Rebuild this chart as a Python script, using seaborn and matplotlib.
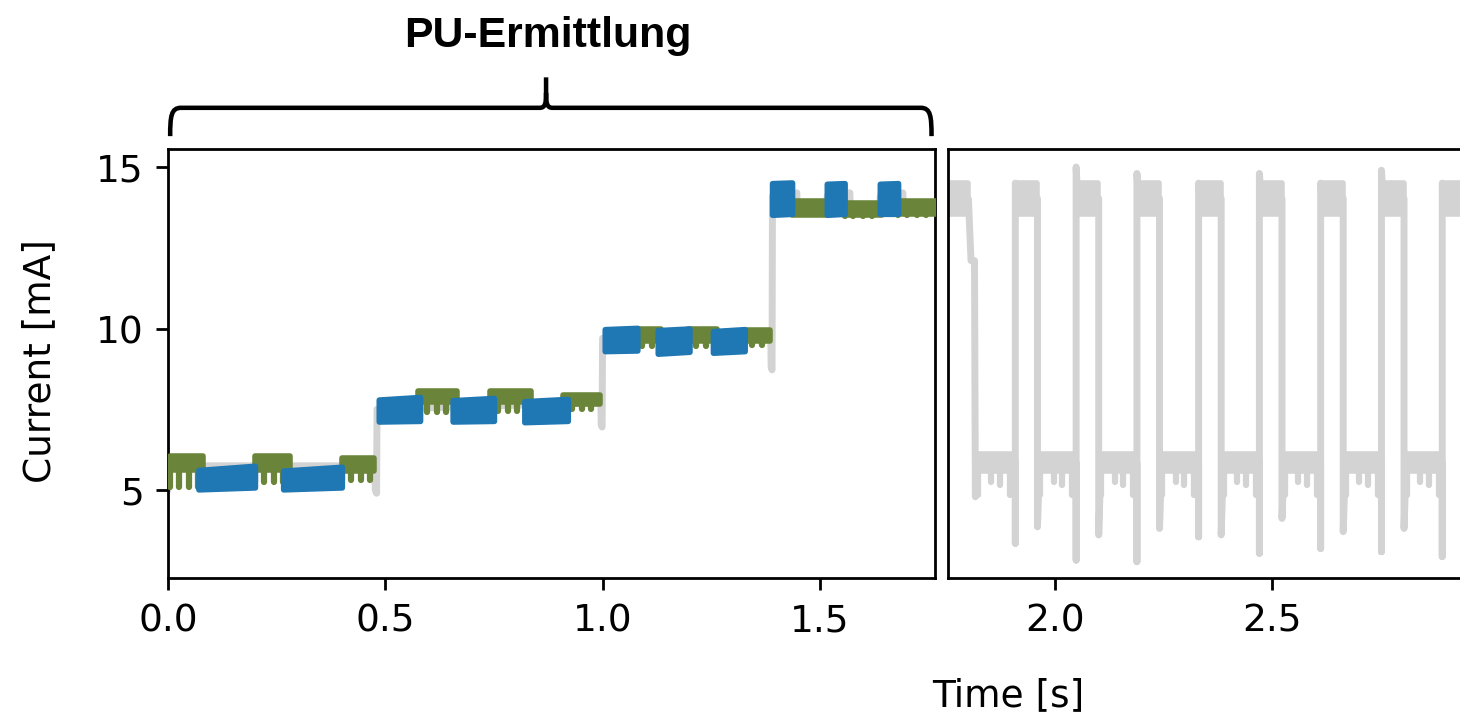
import matplotlib

matplotlib.use("Agg")

import matplotlib.pyplot as plt
import matplotlib.transforms as mtransforms
import seaborn as sns
from matplotlib.patches import PathPatch
from matplotlib.path import Path


GRAY = "#d3d3d3"
BLUE = "#1f77b4"
GREEN = "#6a8539"

# left panel, raw gray trace (time [s], current [mA])
LEFT_TRACE_T = [0.000, 0.002, 0.476, 0.477, 0.480, 0.481, 0.996, 0.997, 0.999, 1.000,
                1.387, 1.388, 1.390, 1.391, 1.447, 1.448, 1.516, 1.517, 1.569, 1.570,
                1.638, 1.639, 1.691, 1.692, 1.770]
LEFT_TRACE_I = [5.00, 5.75, 5.75, 5.00, 4.90, 7.50, 7.70, 7.00, 6.95, 9.70,
                9.80, 8.80, 8.72, 14.10, 14.20, 13.75, 13.75, 14.10, 14.20, 13.75,
                13.75, 14.10, 14.20, 13.75, 13.75]

# green segments (lower part of each PWM period)
GREEN_START = [0.005, 0.200, 0.400, 0.575, 0.740, 0.910, 1.070, 1.196, 1.323, 1.436, 1.557, 1.680]
GREEN_END = [0.080, 0.280, 0.475, 0.665, 0.835, 0.995, 1.135, 1.263, 1.385, 1.516, 1.643, 1.769]
GREEN_TOP = [6.05, 6.05, 6.00, 8.05, 8.05, 7.95, 9.98, 9.98, 9.95, 13.95, 13.90, 13.95]
GREEN_BOTTOM = [5.62, 5.62, 5.60, 7.72, 7.72, 7.65, 9.62, 9.60, 9.62, 13.52, 13.50, 13.55]
GREEN_DRIP = [5.10, 5.25, 5.30, 7.40, 7.45, 7.50, 9.45, 9.45, 9.50, 13.50, 13.48, 13.52]
GREEN_DRIP_OFFSETS = [0.000, 0.020, 0.043, 0.064]

# blue segments (upper part of each PWM period)
BLUE_START = [0.070, 0.265, 0.485, 0.655, 0.820, 1.005, 1.127, 1.254, 1.390, 1.516, 1.638]
BLUE_END = [0.200, 0.400, 0.580, 0.750, 0.920, 1.080, 1.200, 1.327, 1.436, 1.557, 1.680]
BLUE_BOTTOM_START = [5.02, 5.02, 7.12, 7.12, 7.10, 9.30, 9.22, 9.25, 13.52, 13.52, 13.55]
BLUE_BOTTOM_END = [5.08, 5.08, 7.14, 7.14, 7.14, 9.32, 9.28, 9.30, 13.55, 13.55, 13.55]
BLUE_TOP_START = [5.62, 5.60, 7.80, 7.78, 7.75, 9.98, 9.95, 9.92, 14.50, 14.48, 14.48]
BLUE_TOP_END = [5.75, 5.72, 7.88, 7.85, 7.82, 10.02, 10.00, 9.98, 14.52, 14.50, 14.50]

# right panel, square wave of the gray trace
PULSE_FALL_T = [1.816, 1.959, 2.100, 2.240, 2.382, 2.522, 2.663, 2.803]
FALL_DIP_I = [4.79, 3.86, 3.61, 3.81, 3.61, 4.12, 3.71, 3.81]
PULSE_RISE_T = [1.908, 2.048, 2.188, 2.330, 2.470, 2.611, 2.751, 2.891]
RISE_DIP_I = [3.35, 2.83, 2.78, 3.55, 3.04, 3.19, 3.09, 2.94]
RISE_PEAK_I = [14.50, 15.00, 14.80, 14.50, 14.80, 14.50, 14.90, 14.50]
SHOULDER_T = [1.800, 1.806, 1.814]
SHOULDER_I = [14.00, 12.10, 12.10]
HIGH_BAND = (13.55, 14.50)
LOW_BAND = (5.58, 6.10)
LOW_DRIP_OFFSETS = [0.006, 0.037, 0.057, 0.080]
LOW_DRIP_I = [4.85, 5.25, 5.15, 4.85]

LEFT_XLIM = (0.0, 1.765)
RIGHT_XLIM = (1.753, 2.948)
YLIM = (2.276, 15.557)

FONT_SIZE = 10.8


def draw_band(ax, t0, t1, lo0, lo1, hi0, hi1, color, z):
    ax.fill_between([t0, t1], [lo0, lo1], [hi0, hi1], color=color, edgecolor=color,
                    linewidth=1.6, joinstyle="round", zorder=z)


def draw_gray_trace(ax, t, i):
    sns.lineplot(x=t, y=i, ax=ax, color=GRAY, linewidth=2.0, sort=False,
                 estimator=None, zorder=2)


def build_right_trace():
    high = sum(HIGH_BAND) / 2
    low = sum(LOW_BAND) / 2
    rt = [RIGHT_XLIM[0] - 0.01] + SHOULDER_T
    ri = [high] + SHOULDER_I
    for k, tf in enumerate(PULSE_FALL_T):
        if k > 0:
            rt.append(tf)
            ri.append(high)
        rt += [tf, tf + 0.005]
        ri += [FALL_DIP_I[k], low]
        tr = PULSE_RISE_T[k]
        rt += [tr, tr, tr, tr + 0.004]
        ri += [low, RISE_DIP_I[k], RISE_PEAK_I[k], high]
    rt.append(RIGHT_XLIM[1] + 0.01)
    ri.append(high)
    return rt, ri


def draw_brace(ax):
    trans = mtransforms.blended_transform_factory(ax.transData, ax.transAxes)
    x0, x1, xm = 0.005, 1.757, 0.870
    yb, yh, ytip = 1.03, 1.096, 1.167
    verts = [
        (x0, yb), (x0, yh - 0.02), (x0 + 0.002, yh), (x0 + 0.025, yh),
        (xm - 0.015, yh), (xm - 0.002, yh), (xm, yh + 0.01), (xm, yh + 0.035),
        (xm, ytip),
        (xm, yh + 0.035), (xm, yh + 0.01), (xm + 0.002, yh), (xm + 0.015, yh),
        (x1 - 0.025, yh), (x1 - 0.002, yh), (x1, yh - 0.02), (x1, yb),
    ]
    codes = [
        Path.MOVETO, Path.CURVE4, Path.CURVE4, Path.CURVE4,
        Path.LINETO, Path.CURVE4, Path.CURVE4, Path.CURVE4,
        Path.LINETO,
        Path.MOVETO, Path.CURVE4, Path.CURVE4, Path.CURVE4,
        Path.LINETO, Path.CURVE4, Path.CURVE4, Path.CURVE4,
    ]
    patch = PathPatch(Path(verts, codes), transform=trans, facecolor="none",
                      edgecolor="black", linewidth=1.3, clip_on=False)
    ax.add_patch(patch)


def main() -> None:
    sns.set_style("ticks", rc={
        "axes.edgecolor": "black",
        "xtick.color": "black",
        "ytick.color": "black",
        "text.color": "black",
        "axes.labelcolor": "black",
    })
    plt.rcParams["font.family"] = ["DejaVu Sans"]
    plt.rcParams["xtick.labelsize"] = FONT_SIZE
    plt.rcParams["ytick.labelsize"] = FONT_SIZE

    fig = plt.figure(figsize=(5.84, 2.86), dpi=250)
    ax1 = fig.add_axes([168 / 1460, 137 / 715, 767 / 1460, 429 / 715])
    ax2 = fig.add_axes([948 / 1460, 137 / 715, 519 / 1460, 429 / 715])

    # left panel
    draw_gray_trace(ax1, LEFT_TRACE_T, LEFT_TRACE_I)
    for k in range(len(GREEN_START)):
        t0, t1 = GREEN_START[k], GREEN_END[k]
        draw_band(ax1, t0, t1, GREEN_BOTTOM[k], GREEN_BOTTOM[k], GREEN_TOP[k], GREEN_TOP[k], GREEN, 3)
        drip_t = [t0 + d for d in GREEN_DRIP_OFFSETS if t0 + d <= t1]
        ax1.vlines(drip_t, GREEN_DRIP[k], GREEN_BOTTOM[k], color=GREEN, linewidth=1.8,
                   capstyle="round", zorder=3)
    for k in range(len(BLUE_START)):
        draw_band(ax1, BLUE_START[k], BLUE_END[k], BLUE_BOTTOM_START[k], BLUE_BOTTOM_END[k],
                  BLUE_TOP_START[k], BLUE_TOP_END[k], BLUE, 4)

    # right panel
    rt, ri = build_right_trace()
    draw_gray_trace(ax2, rt, ri)
    high_start = [RIGHT_XLIM[0] - 0.01] + [t + 0.003 for t in PULSE_RISE_T]
    high_end = [SHOULDER_T[0]] + [t - 0.001 for t in PULSE_FALL_T[1:]] + [RIGHT_XLIM[1] + 0.01]
    for t0, t1 in zip(high_start, high_end):
        draw_band(ax2, t0, t1, HIGH_BAND[0], HIGH_BAND[0], HIGH_BAND[1], HIGH_BAND[1], GRAY, 2)
    for tf, tr in zip(PULSE_FALL_T, PULSE_RISE_T):
        draw_band(ax2, tf + 0.005, tr - 0.001, LOW_BAND[0], LOW_BAND[0], LOW_BAND[1], LOW_BAND[1], GRAY, 2)
        ax2.vlines([tf + d for d in LOW_DRIP_OFFSETS], LOW_DRIP_I, LOW_BAND[0], color=GRAY,
                   linewidth=1.8, capstyle="round", zorder=2)

    ax1.set_xlim(*LEFT_XLIM)
    ax2.set_xlim(*RIGHT_XLIM)
    for ax in (ax1, ax2):
        ax.set_ylim(*YLIM)
        ax.set_xlabel("")
        ax.set_ylabel("")
    ax1.set_xticks([0.0, 0.5, 1.0, 1.5])
    ax1.set_yticks([5, 10, 15])
    ax2.set_xticks([2.0, 2.5])
    ax2.set_yticks([5, 10, 15])
    ax2.tick_params(left=False, labelleft=False)

    draw_brace(ax1)
    fig.text(548 / 1460, 1 - 47 / 715, "PU-Ermittlung", ha="center", va="baseline",
             fontsize=12.3, fontweight="bold", family=["Liberation Sans", "DejaVu Sans"])
    fig.text(1008 / 1460, 1 - 706 / 715, "Time [s]", ha="center", va="baseline", fontsize=FONT_SIZE)
    fig.text(40 / 1460, 1 - 361.5 / 715, "Current [mA]", ha="center", va="center",
             rotation=90, fontsize=FONT_SIZE)

    fig.savefig("out.png", dpi=250)
    plt.close(fig)


if __name__ == "__main__":
    main()
